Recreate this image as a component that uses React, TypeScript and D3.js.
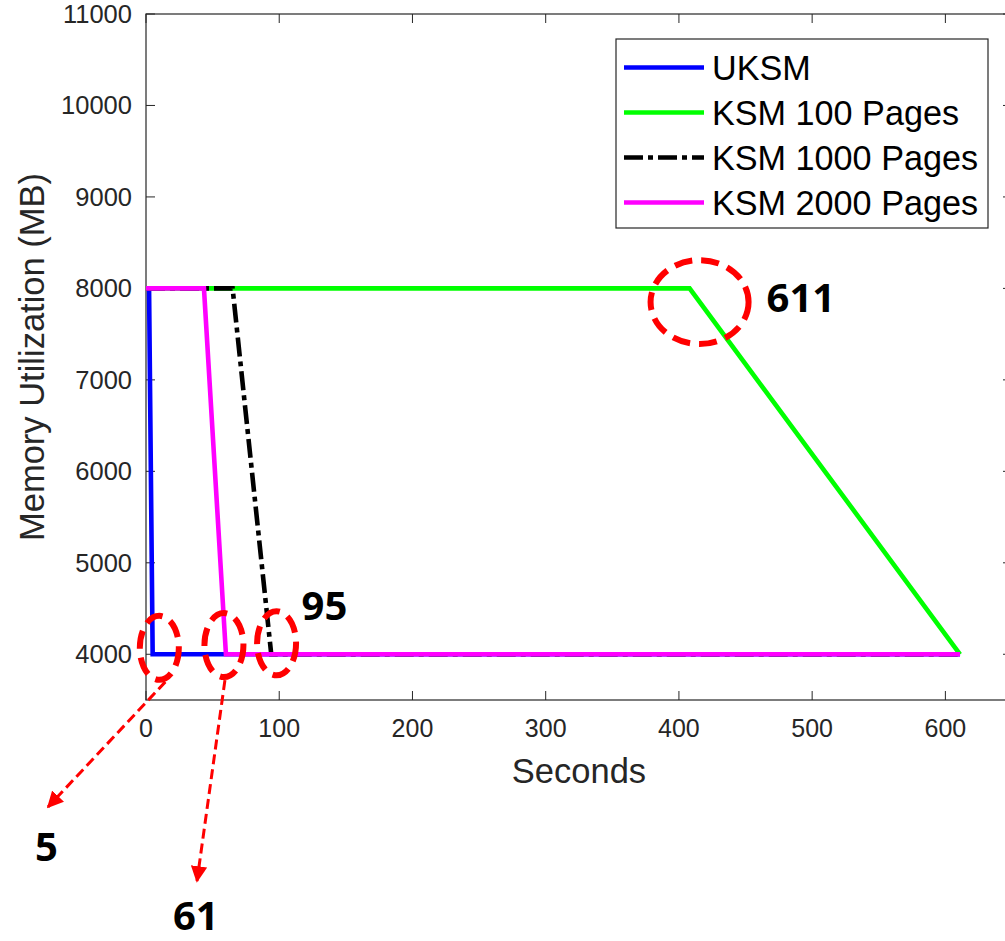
import React from "react";
import * as d3 from "d3";

type Pt = { t: number; v: number };

// ---------- data ----------
const uksm: Pt[] = [
  { t: 2.3, v: 8000 },
  { t: 5, v: 4000 },
  { t: 611, v: 4000 },
];
const ksm100: Pt[] = [
  { t: 0, v: 8000 },
  { t: 408, v: 8000 },
  { t: 611, v: 4000 },
];
const ksm1000: Pt[] = [
  { t: 0, v: 8000 },
  { t: 65, v: 8000 },
  { t: 94, v: 4000 },
  { t: 611, v: 4000 },
];
const ksm2000: Pt[] = [
  { t: 0, v: 8000 },
  { t: 43.5, v: 8000 },
  { t: 60, v: 4000 },
  { t: 611, v: 4000 },
];

const seriesNames = ["UKSM", "KSM 100 Pages", "KSM 1000 Pages", "KSM 2000 Pages"];
const seriesData = [uksm, ksm100, ksm1000, ksm2000];
const seriesColors = ["#0000ff", "#00ff00", "#000000", "#ff00ff"];
const seriesDash = [null, null, "19,5,5,5", null];

const xTicks = [0, 100, 200, 300, 400, 500, 600];
const yTicks = [4000, 5000, 6000, 7000, 8000, 9000, 10000, 11000];

// highlighted points (ellipse centres, in data units) and their labels
const highlightT = [10, 58.5, 98, 415.5];
const highlightV = [4070, 4100, 4120, 7850];
const highlightLabels = ["5", "61", "95", "611"];

// ---------- layout ----------
const W = 1005;
const H = 941;
const left = 146;
const top = 14;
const right = 1012;
const bottom = 700;

const x = d3.scaleLinear().domain([0, 650]).range([left, right]);
const y = d3.scaleLinear().domain([3500, 11000]).range([bottom, top]);

const line = d3
  .line<Pt>()
  .x((d) => x(d.t))
  .y((d) => y(d.v));

const axisColor = "#262626";
const font = "'Liberation Sans', Arial, Helvetica, sans-serif";
const boldFont = "'Open Sans', 'Liberation Sans', sans-serif";
const red = "#ff0000";

export default function App() {
  const tickLen = 9;
  // ellipse radii
  const ell = [
    { rx: 19.5, ry: 32 },
    { rx: 19.5, ry: 32 },
    { rx: 19.5, ry: 32 },
    { rx: 49, ry: 42 },
  ];
  const cx = highlightT.map((t) => x(t));
  const cy = highlightV.map((v) => y(v));

  // label positions relative to ellipses
  const labelPos = [
    { x: 35, y: 861 },
    { x: 173, y: 930 },
    { x: cx[2] + 25, y: cy[2] - 23 },
    { x: cx[3] + 67, y: cy[3] + 10 },
  ];

  const arrows = [
    { x1: cx[0] + 6, y1: cy[0] + 34, x2: 48, y2: 807 },
    { x1: cx[1] + 1, y1: cy[1] + 35, x2: 197, y2: 881 },
  ];

  return (
    <svg
      width={W}
      height={H}
      style={{ position: "absolute", left: 0, top: 0, background: "#fff" }}
    >
      <defs>
        <marker
          id="arr"
          viewBox="0 0 10 10"
          refX="9"
          refY="5"
          markerWidth="5.5"
          markerHeight="5.5"
          markerUnits="strokeWidth"
          orient="auto"
        >
          <path d="M0,0 L10,5 L0,10 z" fill={red} />
        </marker>
      </defs>
      <rect x={0} y={0} width={W} height={H} fill="#fff" />

      {/* frame */}
      <rect
        x={left}
        y={top}
        width={right - left}
        height={bottom - top}
        fill="none"
        stroke={axisColor}
        strokeWidth={1.2}
      />
      {/* x ticks */}
      {xTicks.map((t) => (
        <g key={"xt" + t}>
          <line x1={x(t)} x2={x(t)} y1={bottom} y2={bottom - tickLen} stroke={axisColor} strokeWidth={1} />
          <line x1={x(t)} x2={x(t)} y1={top} y2={top + tickLen} stroke={axisColor} strokeWidth={1} />
          <text
            x={x(t)}
            y={737}
            textAnchor="middle"
            fontFamily={font}
            fontSize={25}
            fill={axisColor}
          >
            {t}
          </text>
        </g>
      ))}
      {/* y ticks */}
      {yTicks.map((v) => (
        <g key={"yt" + v}>
          <line x1={left} x2={left + tickLen} y1={y(v)} y2={y(v)} stroke={axisColor} strokeWidth={1} />
          <line x1={right} x2={right - tickLen} y1={y(v)} y2={y(v)} stroke={axisColor} strokeWidth={1} />
          <text
            x={132}
            y={y(v)}
            dy="0.35em"
            textAnchor="end"
            fontFamily={font}
            fontSize={25.5}
            fill={axisColor}
          >
            {v}
          </text>
        </g>
      ))}

      {/* axis labels */}
      <text x={(left + right) / 2} y={783} textAnchor="middle" fontFamily={font} fontSize={34.5} fill={axisColor}>
        Seconds
      </text>
      <text
        transform={`translate(44, ${(top + bottom) / 2}) rotate(-90)`}
        textAnchor="middle"
        fontFamily={font}
        fontSize={34.5}
        fill={axisColor}
      >
        Memory Utilization (MB)
      </text>

      {/* series */}
      {seriesData.map((d, i) => (
        <path
          key={"s" + i}
          d={line(d) || ""}
          fill="none"
          stroke={seriesColors[i]}
          strokeWidth={4.6}
          strokeDasharray={seriesDash[i] || undefined}
          strokeLinejoin="miter"
        />
      ))}

      {/* legend */}
      <g>
        <rect x={616} y={39} width={372} height={189} fill="#fff" stroke={axisColor} strokeWidth={1.2} />
        {seriesNames.map((n, i) => {
          const cyL = 67.5 + i * 45;
          return (
            <g key={"lg" + i}>
              <line
                x1={624}
                x2={704}
                y1={cyL}
                y2={cyL}
                stroke={seriesColors[i]}
                strokeWidth={4.6}
                strokeDasharray={seriesDash[i] || undefined}
              />
              <text x={712} y={cyL + 12.5} fontFamily={font} fontSize={34.2} fill="#000">
                {n}
              </text>
            </g>
          );
        })}
      </g>

      {/* annotations */}
      {cx.map((c, i) => (
        <ellipse
          key={"el" + i}
          cx={c}
          cy={cy[i]}
          rx={ell[i].rx}
          ry={ell[i].ry}
          fill="none"
          stroke={red}
          strokeWidth={6}
          strokeDasharray="18,9"
        />
      ))}
      {arrows.map((a, i) => (
        <line
          key={"ar" + i}
          x1={a.x1}
          y1={a.y1}
          x2={a.x2}
          y2={a.y2}
          stroke={red}
          strokeWidth={3}
          strokeDasharray="10,5"
          markerEnd="url(#arr)"
        />
      ))}
      {highlightLabels.map((l, i) => (
        <text
          key={"hl" + i}
          x={labelPos[i].x}
          y={labelPos[i].y}
          fontFamily={boldFont}
          fontWeight={700}
          fontSize={40}
          fill="#000"
        >
          {l}
        </text>
      ))}
    </svg>
  );
}
